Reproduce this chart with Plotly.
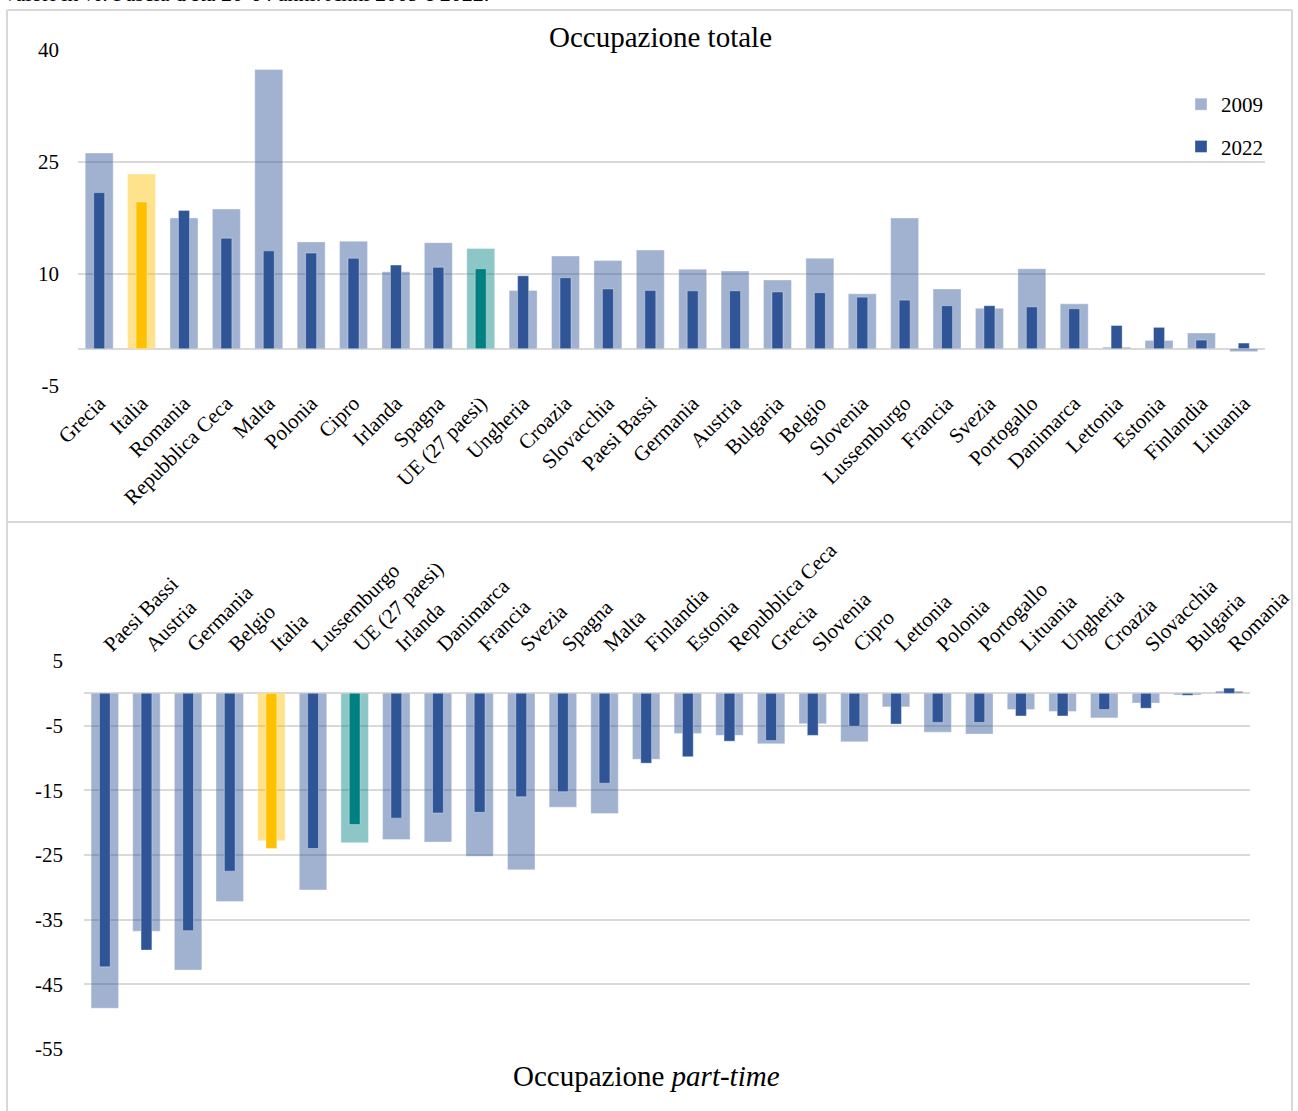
import plotly.graph_objects as go

# ---------------- data ----------------
cat_tot = ["Grecia", "Italia", "Romania", "Repubblica Ceca", "Malta", "Polonia", "Cipro",
           "Irlanda", "Spagna", "UE (27 paesi)", "Ungheria", "Croazia", "Slovacchia",
           "Paesi Bassi", "Germania", "Austria", "Bulgaria", "Belgio", "Slovenia",
           "Lussemburgo", "Francia", "Svezia", "Portogallo", "Danimarca", "Lettonia",
           "Estonia", "Finlandia", "Lituania"]
tot_2009 = [26.2, 23.4, 17.5, 18.7, 37.4, 14.3, 14.4, 10.3, 14.2, 13.4, 7.8, 12.4, 11.8,
            13.2, 10.65, 10.4, 9.2, 12.1, 7.35, 17.5, 8.0, 5.4, 10.7, 6.0, 0.2, 1.1, 2.1, -0.4]
tot_2022 = [20.9, 19.65, 18.5, 14.8, 13.1, 12.8, 12.1, 11.2, 10.9, 10.7, 9.76, 9.5, 8.0,
            7.8, 7.75, 7.75, 7.6, 7.5, 6.9, 6.5, 5.75, 5.75, 5.6, 5.35, 3.1, 2.85, 1.15, 0.75]

cat_pt = ["Paesi Bassi", "Austria", "Germania", "Belgio", "Italia", "Lussemburgo",
          "UE (27 paesi)", "Irlanda", "Danimarca", "Francia", "Svezia", "Spagna", "Malta",
          "Finlandia", "Estonia", "Repubblica Ceca", "Grecia", "Slovenia", "Cipro",
          "Lettonia", "Polonia", "Portogallo", "Lituania", "Ungheria", "Croazia",
          "Slovacchia", "Bulgaria", "Romania"]
pt_2009 = [-48.7, -36.8, -42.8, -32.2, -22.8, -30.4, -23.1, -22.6, -23.0, -25.2, -27.3,
           -17.6, -18.6, -10.2, -6.2, -6.5, -7.8, -4.7, -7.5, -2.1, -6.0, -6.3, -2.5, -2.8,
           -3.8, -1.5, -0.26, 0.36]
pt_2022 = [-42.3, -39.7, -36.7, -27.5, -24.0, -24.0, -20.3, -19.3, -18.5, -18.4, -16.0,
           -15.2, -13.9, -10.8, -9.8, -7.4, -7.3, -6.5, -5.1, -4.75, -4.5, -4.5, -3.5, -3.5,
           -2.5, -2.3, -0.3, 0.8]

years = ["2009", "2022"]
y_ticks_tot = [-5, 10, 25, 40]
y_ticks_pt = [5, -5, -15, -25, -35, -45, -55]

# ---------------- styles ----------------
W, H = 1298, 1111
FONT = "Liberation Serif"
BLUE = "#2F5597"
BLUE_L = "rgba(47,85,151,0.45)"
YEL = "#FFC000"
YEL_L = "rgba(255,192,0,0.45)"
TEAL = "#008080"
TEAL_L = "rgba(0,128,128,0.45)"
GRID = "#D9D9D9"


def colors(cats, light):
    out = []
    for c in cats:
        if c == "Italia":
            out.append(YEL_L if light else YEL)
        elif c.startswith("UE"):
            out.append(TEAL_L if light else TEAL)
        else:
            out.append(BLUE_L if light else BLUE)
    return out


def px_x(p):
    return p / W


def px_y(p):
    return 1 - p / H


fig = go.Figure()

edge = dict(color="rgba(255,255,255,0.35)", width=1)
# top panel
fig.add_trace(go.Bar(x=cat_tot, y=tot_2009, name=years[0], width=0.66,
                     marker=dict(color=colors(cat_tot, True), line=edge),
                     xaxis="x", yaxis="y", legendgroup="a"))
fig.add_trace(go.Bar(x=cat_tot, y=tot_2022, name=years[1], width=0.26,
                     marker=dict(color=colors(cat_tot, False), line=edge),
                     xaxis="x", yaxis="y", legendgroup="b"))
# bottom panel
fig.add_trace(go.Bar(x=cat_pt, y=pt_2009, name=years[0], width=0.66, showlegend=False,
                     marker=dict(color=colors(cat_pt, True), line=edge),
                     xaxis="x2", yaxis="y2"))
fig.add_trace(go.Bar(x=cat_pt, y=pt_2022, name=years[1], width=0.26, showlegend=False,
                     marker=dict(color=colors(cat_pt, False), line=edge),
                     xaxis="x2", yaxis="y2"))

axis_font = dict(family=FONT, size=21, color="#000000")

fig.update_layout(
    width=W, height=H,
    margin=dict(l=0, r=0, t=0, b=0),
    paper_bgcolor="white", plot_bgcolor="white",
    barmode="overlay",
    font=dict(family=FONT, size=21, color="#000000"),
    xaxis=dict(domain=[px_x(78), px_x(1265)], anchor="y", type="category",
               tickangle=-45, tickfont=axis_font, showgrid=False, showline=False,
               ticks="", automargin=False),
    yaxis=dict(domain=[px_y(386), px_y(50)], anchor="x", range=[-5, 40],
               tickmode="array", tickvals=y_ticks_tot,
               ticktext=[str(v) for v in y_ticks_tot], tickfont=axis_font,
               showgrid=True, gridcolor=GRID, gridwidth=2, zeroline=True,
               zerolinecolor=GRID, zerolinewidth=2, showline=False, ticks="",
               ticklabelstandoff=18, automargin=False),
    xaxis2=dict(domain=[px_x(84), px_x(1250)], anchor="y2", type="category", side="top",
                tickangle=-45, tickfont=axis_font, showgrid=False, showline=False,
                ticks="", automargin=False),
    yaxis2=dict(domain=[px_y(1049), px_y(661)], anchor="x2", range=[-55, 5],
                tickmode="array", tickvals=y_ticks_pt,
                ticktext=[str(v) for v in y_ticks_pt], tickfont=axis_font,
                showgrid=True, gridcolor=GRID, gridwidth=2, zeroline=True,
                zerolinecolor=GRID, zerolinewidth=2, showline=False, ticks="",
                ticklabelstandoff=20, automargin=False),
    legend=dict(x=px_x(1181), y=px_y(84), xanchor="left", yanchor="top",
                font=dict(family=FONT, size=21, color="#000000"),
                tracegroupgap=12, bgcolor="rgba(0,0,0,0)"),
    showlegend=True,
)

# titles and header
fig.add_annotation(text="Occupazione totale", x=px_x(660), y=px_y(37), xref="paper",
                   yref="paper", showarrow=False, xanchor="center", yanchor="middle",
                   font=dict(family=FONT, size=29, color="#000000"))
fig.add_annotation(text="Occupazione <i>part-time</i>", x=px_x(646), y=px_y(1076),
                   xref="paper", yref="paper", showarrow=False, xanchor="center",
                   yanchor="middle", font=dict(family=FONT, size=29, color="#000000"))
fig.add_annotation(text="Valori in %. Fascia d'età 20-64 anni. Anni 2009 e 2022.",
                   x=0, y=px_y(8), xref="paper", yref="paper", showarrow=False,
                   xanchor="left", yanchor="bottom",
                   font=dict(family=FONT, size=22, color="#000000"))

# frame lines
frame = dict(color=GRID, width=2)
for x0, y0, x1, y1 in [(7, 10, 1292, 10), (7, 10, 7, 1111), (1292, 10, 1292, 1111),
                       (7, 522, 1292, 522)]:
    fig.add_shape(type="line", xref="paper", yref="paper",
                  x0=px_x(x0), y0=px_y(y0), x1=px_x(x1), y1=px_y(y1), line=frame)

fig.write_html("out.html", config={"displayModeBar": False},
               post_script="document.body.style.margin='0';")
